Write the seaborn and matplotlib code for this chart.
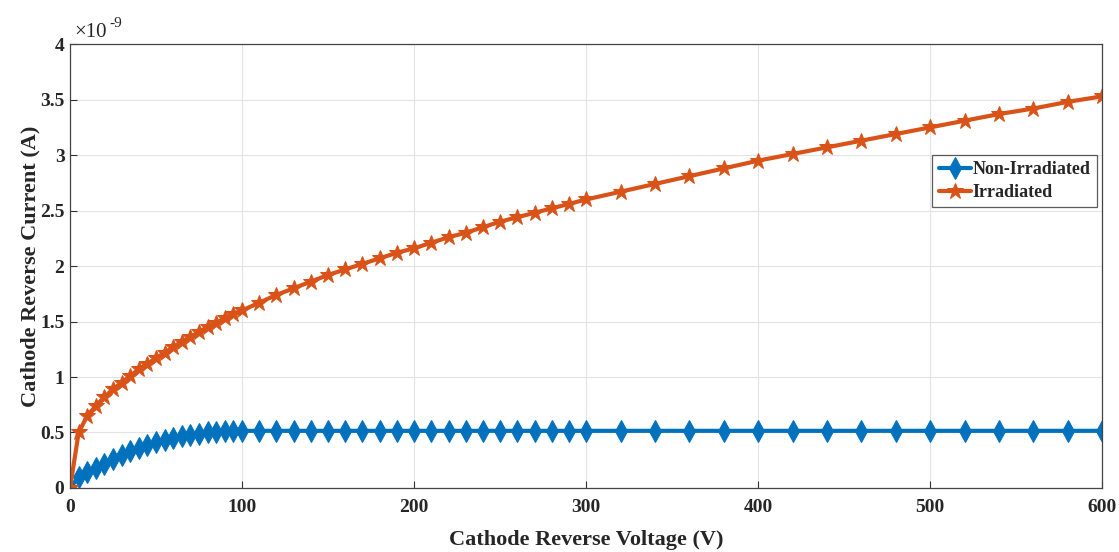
import numpy as np
import pandas as pd
import matplotlib
matplotlib.use("Agg")
import matplotlib.pyplot as plt
import seaborn as sns

# Data (current in units of 1e-9 A)
voltage = [0, 5, 10, 15, 20, 25, 30, 35, 40, 45, 50, 55, 60, 65, 70, 75, 80, 85, 90, 95, 100,
           110, 120, 130, 140, 150, 160, 170, 180, 190, 200, 210, 220, 230, 240, 250, 260, 270, 280, 290, 300,
           320, 340, 360, 380, 400, 420, 440, 460, 480, 500, 520, 540, 560, 580, 600]
non_irradiated = [0.0, 0.10, 0.14, 0.18, 0.22, 0.26, 0.30, 0.33, 0.36, 0.39, 0.41, 0.43, 0.45, 0.47, 0.48, 0.49, 0.50, 0.505, 0.51, 0.51, 0.515,
                  0.515, 0.515, 0.515, 0.515, 0.515, 0.515, 0.515, 0.515, 0.515, 0.515, 0.515, 0.515, 0.515, 0.515, 0.515, 0.515, 0.515, 0.515, 0.515, 0.515,
                  0.515, 0.515, 0.515, 0.515, 0.515, 0.515, 0.515, 0.515, 0.515, 0.515, 0.515, 0.515, 0.515, 0.515, 0.515]
irradiated = [0.0, 0.50, 0.65, 0.74, 0.82, 0.89, 0.95, 1.01, 1.07, 1.12, 1.17, 1.22, 1.27, 1.32, 1.36, 1.41, 1.45, 1.49, 1.53, 1.57, 1.60,
              1.67, 1.74, 1.80, 1.86, 1.92, 1.97, 2.02, 2.07, 2.12, 2.16, 2.21, 2.26, 2.30, 2.35, 2.40, 2.44, 2.48, 2.52, 2.56, 2.60,
              2.67, 2.74, 2.81, 2.88, 2.95, 3.01, 3.07, 3.13, 3.19, 3.25, 3.31, 3.37, 3.42, 3.48, 3.53]
series_names = ["Non-Irradiated", "Irradiated"]
x_ticks = [0, 100, 200, 300, 400, 500, 600]
y_ticks = [0, 0.5, 1, 1.5, 2, 2.5, 3, 3.5, 4]
y_tick_labels = ["0", "0.5", "1", "1.5", "2", "2.5", "3", "3.5", "4"]

sns.set_theme(style="whitegrid")
plt.rcParams['font.family'] = ['Liberation Serif', 'DejaVu Serif']
plt.rcParams['font.weight'] = 'bold'

df = pd.DataFrame({
    "Voltage": voltage * 2,
    "Current": non_irradiated + irradiated,
    "Series": [series_names[0]] * len(voltage) + [series_names[1]] * len(voltage),
})

fig = plt.figure(figsize=(11.19, 5.52), dpi=100)
ax = fig.add_axes([0.0626, 0.116, 0.9224, 0.804])

colors = {"Non-Irradiated": "#0072BD", "Irradiated": "#D95319"}
markers = {"Non-Irradiated": "d", "Irradiated": "*"}
sizes = {"Non-Irradiated": 11, "Irradiated": 12}
for name in series_names:
    sub = df[df["Series"] == name]
    sns.lineplot(data=sub, x="Voltage", y="Current", ax=ax, color=colors[name],
                 marker=markers[name], markersize=sizes[name], markeredgecolor=colors[name],
                 linewidth=3, label=name, sort=False)

ax.set_xlim(0, 600)
ax.set_ylim(0, 4)
ax.set_xticks(x_ticks)
ax.set_xticklabels([str(t) for t in x_ticks], fontsize=14, fontweight='bold')
ax.set_yticks(y_ticks)
ax.set_yticklabels(y_tick_labels, fontsize=14, fontweight='bold')
ax.tick_params(axis='both', direction='in', length=5, width=0.8, color='#333333',
               top=False, right=False, bottom=True, left=True)
ax.tick_params(axis='x', pad=8)
ax.tick_params(axis='y', pad=4)
ax.grid(True, color='#e3e3e3', linewidth=0.8)
for sp in ax.spines.values():
    sp.set_visible(True)
    sp.set_color('#444444')
    sp.set_linewidth(0.9)

ax.set_xlabel("Cathode Reverse Voltage (V)", fontsize=16, fontweight='bold', labelpad=10)
ax.set_ylabel("Cathode Reverse Current (A)", fontsize=16, fontweight='bold', labelpad=0)
ax.text(0.004, 1.004, "\u00d710", transform=ax.transAxes, fontsize=15, fontweight='normal',
        ha='left', va='bottom')
ax.text(0.038, 1.032, "-9", transform=ax.transAxes, fontsize=11, fontweight='normal',
        ha='left', va='bottom')

leg = ax.legend(loc='upper right', bbox_to_anchor=(0.995, 0.75), frameon=True, fancybox=False,
                edgecolor='#333333', fontsize=13, handlelength=1.8, handletextpad=0.1,
                borderpad=0.35, labelspacing=0.3, borderaxespad=0.0)
for t in leg.get_texts():
    t.set_fontweight('bold')
leg.get_frame().set_linewidth(0.9)

fig.savefig("out.png", dpi=100)
